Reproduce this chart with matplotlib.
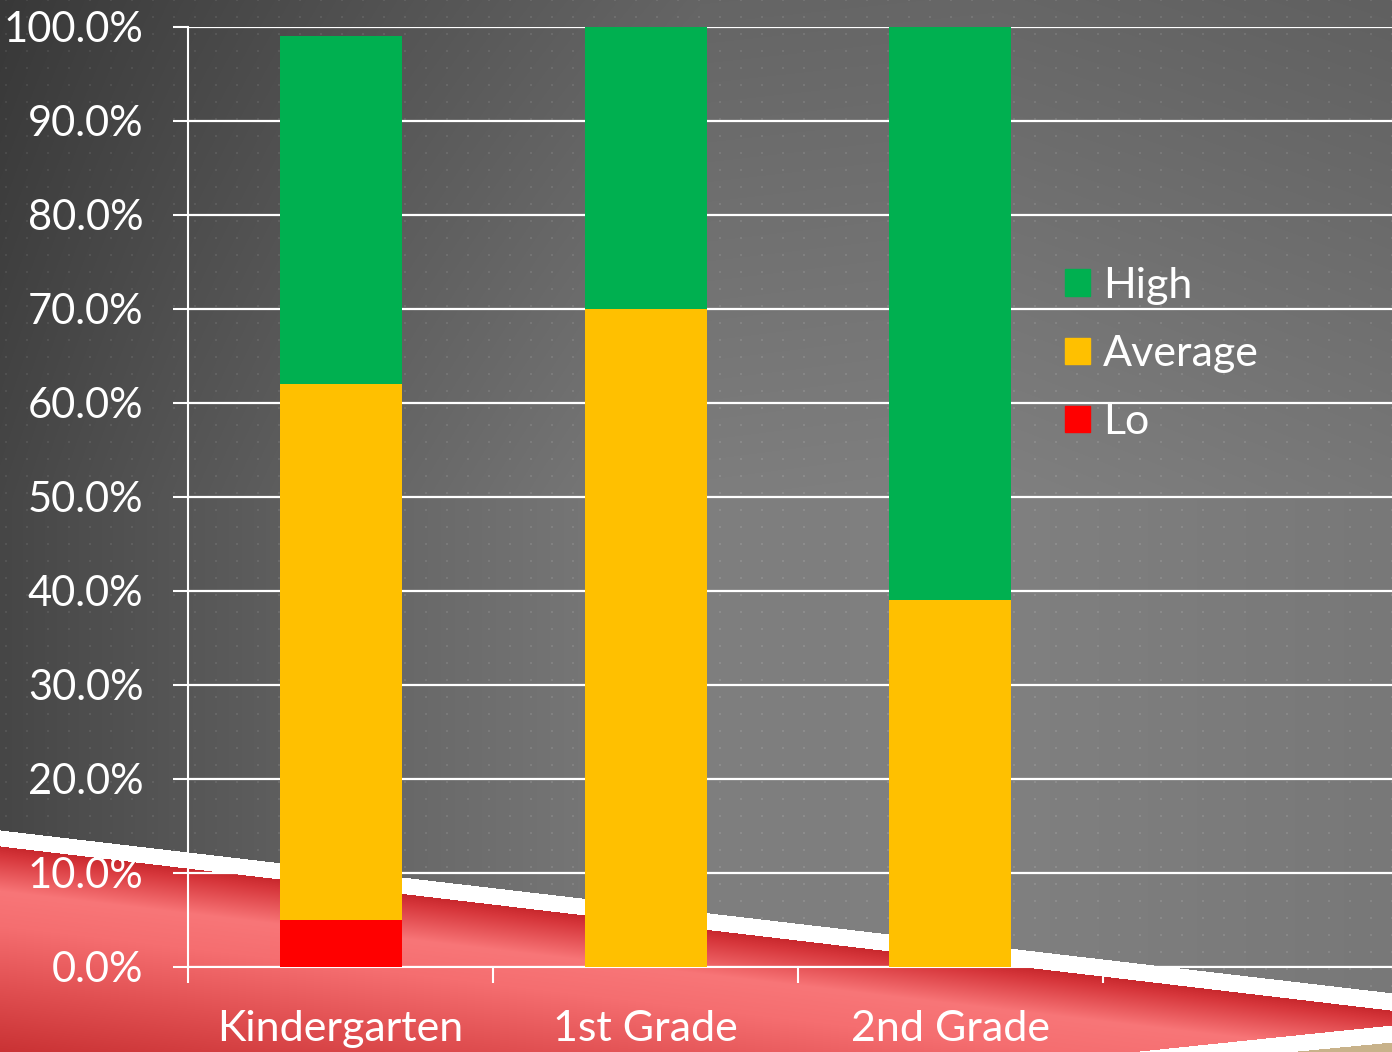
import numpy as np
import matplotlib
matplotlib.use("Agg")
import matplotlib.pyplot as plt
from matplotlib.patches import Patch
from matplotlib.ticker import PercentFormatter

plt.rcParams['font.family'] = ['Lato', 'DejaVu Sans']

# data (share of students)
categories = ['Kindergarten', '1st Grade', '2nd Grade']
lo = [0.05, 0.0, 0.0]
average = [0.57, 0.70, 0.39]
high = [0.37, 0.30, 0.61]

GREEN = '#00B050'
YELLOW = '#FFC000'
RED = '#FF0000'

W, H = 1392, 1052


def slide_background():
    # gray slide with dot pattern and the red banner along the bottom
    yy, xx = np.mgrid[0:H, 0:W].astype(float)
    gray = np.interp(xx, [0, 180, 400, 700, 1000, 1392], [70, 86, 104, 126, 128, 120])
    gray = gray * (1 - 0.2 * np.clip(1 - yy / 500.0, 0, 1))
    dots = (((xx.astype(int) - 5) % 21) < 2) & (((yy.astype(int) - 16) % 17) < 2)
    gray = gray + dots * 14
    img = np.stack([gray, gray, gray], axis=-1)

    top1 = 830 + 0.117 * xx
    bot1 = 846 + 0.118 * xx
    top2 = 1052 - (xx - 1130) * 0.103
    bot2 = 1052 - (xx - 1287) * 0.095

    d = yy - bot1
    dk = [0, 10, 45, 80, 140, 210]
    red = np.stack([np.interp(d, dk, [200, 215, 248, 245, 225, 200]),
                    np.interp(d, dk, [40, 55, 118, 110, 80, 48]),
                    np.interp(d, dk, [45, 60, 120, 112, 82, 50])], axis=-1)

    white_band = ((yy >= top1) & (yy < bot1)) | ((yy >= top2) & (yy < bot2))
    red_band = (yy >= bot1) & (yy < top2)
    beige = yy >= bot2

    img[red_band] = red[red_band]
    img[white_band] = 255
    img[beige] = [200, 178, 138]
    return np.clip(img, 0, 255).astype(np.uint8)


fig = plt.figure(figsize=(W / 100, H / 100), dpi=100)
bg = fig.add_axes([0, 0, 1, 1], zorder=0)
bg.imshow(slide_background(), interpolation='nearest', aspect='auto')
bg.axis('off')

ax = fig.add_axes([188 / W, 85 / H, 1220 / W, 940 / H], zorder=1)
ax.patch.set_alpha(0)

x = np.arange(len(categories))
lo_arr = np.array(lo)
avg_arr = np.array(average)
high_arr = np.array(high)
ax.bar(x, lo_arr, 0.4, color=RED, zorder=3)
ax.bar(x, avg_arr, 0.4, bottom=lo_arr, color=YELLOW, zorder=3)
ax.bar(x, high_arr, 0.4, bottom=lo_arr + avg_arr, color=GREEN, zorder=3)

ax.set_xlim(-0.5, 3.5)
ax.set_ylim(0, 1)
ax.set_yticks(np.arange(0, 1.01, 0.1))
ax.yaxis.set_major_formatter(PercentFormatter(1.0, decimals=1))
ax.grid(axis='y', color='white', linewidth=1.6, zorder=1)
ax.set_axisbelow(True)

ax.set_xticks(x)
ax.set_xticklabels(categories)
ax.set_xticks(np.arange(-0.5, 3.0, 1.0), minor=True)
ax.tick_params(axis='x', which='major', length=0, pad=31, labelsize=31, labelcolor='white')
ax.tick_params(axis='x', which='minor', length=11.5, width=1.5, color='white')
ax.tick_params(axis='y', length=11, width=1.5, color='white', pad=21,
               labelsize=30, labelcolor='white')

for side in ['top', 'right']:
    ax.spines[side].set_visible(False)
for side in ['left', 'bottom']:
    ax.spines[side].set_color('white')
    ax.spines[side].set_linewidth(1.5)

handles = [Patch(color=GREEN), Patch(color=YELLOW), Patch(color=RED)]
leg = fig.legend(handles, ['High', 'Average', 'Lo'], loc='upper left',
                 bbox_to_anchor=(1065 / W, 1 - 267 / H), frameon=False,
                 fontsize=31, labelcolor='white', borderpad=0, borderaxespad=0,
                 handlelength=0.58, handleheight=0.58, handletextpad=0.3,
                 labelspacing=0.7)

fig.savefig('out.png', dpi=100)
